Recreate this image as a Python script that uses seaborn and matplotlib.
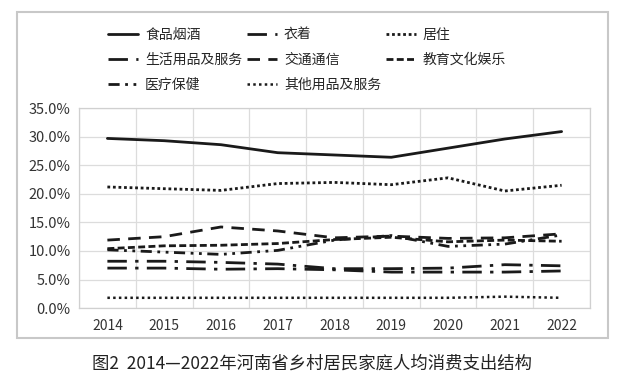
import pandas as pd
import numpy as np
import matplotlib.pyplot as plt
import matplotlib.patches as patches
import seaborn as sns

# ===================== 数据 ==========================
years = ['2014', '2015', '2016', '2017', '2018', '2019', '2020', '2021', '2022']

food = [29.7, 29.3, 28.6, 27.2, 26.8, 26.4, 28.0, 29.6, 30.9]        # 食品烟酒
clothing = [8.2, 8.2, 8.0, 7.7, 6.9, 6.9, 7.0, 7.6, 7.4]             # 衣着
housing = [21.2, 20.9, 20.6, 21.8, 22.0, 21.6, 22.8, 20.5, 21.5]     # 居住
household = [7.0, 7.0, 6.8, 6.9, 6.7, 6.3, 6.3, 6.3, 6.5]            # 生活用品及服务
transport = [11.9, 12.5, 14.2, 13.5, 12.3, 12.6, 12.2, 12.3, 13.0]   # 交通通信
education = [10.4, 10.9, 11.0, 11.3, 12.0, 12.4, 11.6, 11.9, 11.7]   # 教育文化娱乐
medical = [10.2, 9.8, 9.4, 10.1, 11.9, 12.7, 10.8, 11.2, 12.8]       # 医疗保健
others = [1.8, 1.8, 1.8, 1.8, 1.8, 1.8, 1.8, 2.0, 1.8]               # 其他用品及服务

series = {
    '食品烟酒': food,
    '衣着': clothing,
    '居住': housing,
    '生活用品及服务': household,
    '交通通信': transport,
    '教育文化娱乐': education,
    '医疗保健': medical,
    '其他用品及服务': others,
}

estilos = {
    '食品烟酒': ('-', 2.0),
    '衣着': ((0, (7, 3, 1.2, 3)), 2.0),
    '居住': ((0, (1, 1)), 2.0),
    '生活用品及服务': ((0, (7, 3, 1.2, 3)), 2.0),
    '交通通信': ((0, (4.5, 3)), 2.0),
    '教育文化娱乐': ((0, (2.5, 1.2)), 2.0),
    '医疗保健': ((0, (4, 2, 1, 2, 1, 2)), 2.0),
    '其他用品及服务': ((0, (1, 1.3)), 1.8),
}

df = pd.DataFrame(series)
df['pos'] = np.arange(len(years))

# ===================== 图形 ==========================
sns.set_style('white')
plt.rcParams['font.family'] = ['Noto Sans CJK SC', 'DejaVu Sans']

fig = plt.figure(figsize=(6.29, 3.89), dpi=100)
ax = fig.add_axes([0.1256, 0.208, 0.8124, 0.514])

handles = {}
for nome, vals in series.items():
    ls, lw = estilos[nome]
    sns.lineplot(data=df, x='pos', y=nome, ax=ax, color='#1a1a1a',
                 linestyle=ls, linewidth=lw, label=nome, legend=False)
    handles[nome] = ax.lines[-1]

ax.set_xlim(-0.5, len(years) - 0.5)
ax.set_ylim(0, 35)
ax.set_xticks(np.arange(len(years)))
ax.set_xticklabels(years)
ax.set_xticks(np.arange(len(years) + 1) - 0.5, minor=True)
ax.set_yticks(np.arange(0, 36, 5))
ax.set_yticklabels([f'{v:.1f}%' for v in np.arange(0, 36, 5)])
ax.set_xlabel('')
ax.set_ylabel('')
ax.tick_params(axis='both', which='both', length=0, colors='#333333')
ax.tick_params(axis='x', pad=8, labelsize=10)
ax.tick_params(axis='y', pad=6, labelsize=10.5)
ax.grid(axis='y', which='major', color='#dcdcdc', linewidth=0.9)
ax.grid(axis='x', which='minor', color='#dcdcdc', linewidth=0.9)
ax.grid(axis='x', which='major', visible=False)
for s in ax.spines.values():
    s.set_color('#d0d0d0')
    s.set_linewidth(0.9)

# legenda em 3 colunas (ordem por linha)
ordem = ['食品烟酒', '生活用品及服务', '医疗保健',
         '衣着', '交通通信', '其他用品及服务',
         '居住', '教育文化娱乐']
fig.legend([handles[n] for n in ordem], ordem, ncol=3, frameon=False,
           loc='upper left', bbox_to_anchor=(0.172, 0.928),
           fontsize=10, handlelength=2.15, handletextpad=0.5,
           columnspacing=0.36, labelspacing=0.78, borderaxespad=0, borderpad=0)

# moldura externa
fig.patches.append(patches.Rectangle((0.027, 0.131), 0.94, 0.838,
                                     transform=fig.transFigure, fill=False,
                                     edgecolor='#c8c8c8', linewidth=1.5))

fig.text(0.496, 0.066, '图2  2014—2022年河南省乡村居民家庭人均消费支出结构',
         ha='center', va='center', fontsize=12.5, color='#222222')

fig.savefig('out.png', dpi=100, facecolor='white')
